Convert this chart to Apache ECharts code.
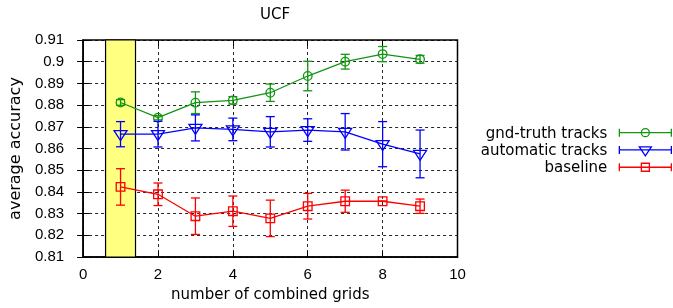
<!DOCTYPE html>
<html>
<head>
<meta charset="utf-8">
<script src="https://cdn.jsdelivr.net/npm/echarts@6/dist/echarts.min.js"></script>
<style>
  html,body{margin:0;padding:0;background:#fff;}
  #chart{width:673px;height:308px;}
</style>
</head>
<body>
<div id="chart"></div>
<script>
/* ---------- data ---------- */
const grids    = [1, 2, 3, 4, 5, 6, 7, 8, 9];
const gtMean   = [0.8812, 0.8742, 0.8811, 0.8822, 0.8857, 0.8934, 0.9000, 0.9035, 0.9011];
const gtErr    = [0.0013, 0.0010, 0.0050, 0.0017, 0.0040, 0.0068, 0.0034, 0.0035, 0.0018];
const autoMean = [0.8666, 0.8666, 0.8695, 0.8688, 0.8677, 0.8685, 0.8677, 0.8620, 0.8575];
const autoErr  = [0.0058, 0.0059, 0.0060, 0.0052, 0.0070, 0.0052, 0.0084, 0.0104, 0.0110];
const baseMean = [0.8423, 0.8389, 0.8288, 0.8311, 0.8278, 0.8334, 0.8357, 0.8357, 0.8334];
const baseErr  = [0.0084, 0.0052, 0.0084, 0.0070, 0.0084, 0.0059, 0.0051, 0.0000, 0.0033];
const highlight = [0.6, 1.4];
const seriesNames = ['gnd-truth tracks', 'automatic tracks', 'baseline'];

/* ---------- styles ---------- */
const colors  = ['#129612', '#0000ff', '#ff0000'];
const markers = ['circle', 'tri', 'square'];
const LW = 1.3;

/* legend icons: error bar with marker, 52 x 14 box */
const iconPaths = {
  circle: 'path://M26,0M26,14M0,6L52,6M0,2L0,10M52,2L52,10M22,6A4,4 0 1,0 30,6A4,4 0 1,0 22,6',
  tri:    'path://M26,0M26,14M0,6L52,6M0,2L0,10M52,2L52,10M20,3L32,3L26,12Z',
  square: 'path://M26,0M26,14M0,6L52,6M0,2L0,10M52,2L52,10M22,2L30,2L30,10L22,10Z'
};

function markerShape(kind, p, color){
  const st = {stroke: color, fill: 'none', lineWidth: LW};
  if(kind==='circle') return {type:'circle', shape:{cx:p[0], cy:p[1], r:4.3}, style:st};
  if(kind==='square') return {type:'rect', shape:{x:p[0]-4.3, y:p[1]-4.3, width:8.6, height:8.6}, style:st};
  return {type:'polygon', shape:{points:[[p[0]-6.5,p[1]-3.5],[p[0]+6.5,p[1]-3.5],[p[0],p[1]+6.5]]}, style:st};
}

function errorSeries(idx, means, errs){
  const color = colors[idx], kind = markers[idx];
  return {
    name: seriesNames[idx],
    type: 'custom',
    z: 4,
    itemStyle: {color: color},
    data: grids.map((g,i)=>[g, means[i], errs[i]]),
    encode: {x: 0, y: 1},
    renderItem: function(params, api){
      const x = api.value(0), m = api.value(1), e = api.value(2);
      const c  = api.coord([x, m]);
      const hi = api.coord([x, m + e]);
      const lo = api.coord([x, m - e]);
      const ls = {stroke: color, lineWidth: LW};
      const cap = 4.5;
      const children = [
        {type:'line', shape:{x1:c[0], y1:hi[1], x2:c[0], y2:lo[1]}, style:ls},
        {type:'line', shape:{x1:c[0]-cap, y1:hi[1], x2:c[0]+cap, y2:hi[1]}, style:ls},
        {type:'line', shape:{x1:c[0]-cap, y1:lo[1], x2:c[0]+cap, y2:lo[1]}, style:ls},
        markerShape(kind, c, color)
      ];
      return {type:'group', children: children};
    }
  };
}

function lineSeries(idx, means){
  return {
    name: seriesNames[idx],
    type: 'line',
    z: 3,
    symbol: 'none',
    silent: true,
    lineStyle: {color: colors[idx], width: LW},
    itemStyle: {color: colors[idx]},
    data: grids.map((g,i)=>[g, means[i]])
  };
}

const tickFont = {fontFamily: 'Liberation Sans', fontSize: 15, color: '#000'};
const nameFont = {fontFamily: 'DejaVu Sans', fontSize: 15, color: '#000'};
const gridLine = {show: true, lineStyle: {color: '#000', width: 1, type: [3, 3], opacity: 0.85}};

/* ---------- chart ---------- */
const chart = echarts.init(document.getElementById('chart'), null, {renderer: 'canvas'});
chart.setOption({
  animation: false,
  backgroundColor: '#fff',
  title: {
    text: 'UCF',
    left: 255,
    top: 3,
    textStyle: {fontFamily: 'DejaVu Sans', fontSize: 15, fontWeight: 'normal', color: '#000'}
  },
  grid: {
    left: 83, right: 215.5, top: 40, bottom: 50,
    show: true, borderColor: '#000', borderWidth: 1.5, backgroundColor: 'transparent'
  },
  legend: {
    orient: 'vertical',
    right: 1,
    top: 126,
    padding: 0,
    align: 'right',
    itemWidth: 52,
    itemHeight: 14,
    itemGap: 2,
    selectedMode: false,
    textStyle: {fontFamily: 'DejaVu Sans', fontSize: 15, color: '#000', padding: [0, 7, 0, 0]},
    data: seriesNames.map((n,i)=>({
      name: n,
      icon: iconPaths[markers[i]],
      itemStyle: {color: 'rgba(0,0,0,0)', borderColor: colors[i], borderWidth: LW}
    }))
  },
  xAxis: [{
    type: 'value', min: 0, max: 10, interval: 2,
    name: 'number of combined grids',
    nameLocation: 'middle', nameGap: 31, nameTextStyle: nameFont,
    axisLine: {show: true, lineStyle: {color: '#000', width: 1.5}},
    axisTick: {show: true, inside: true, length: 6, lineStyle: {color: '#000'}},
    axisLabel: Object.assign({margin: 10}, tickFont),
    splitLine: gridLine
  }, {
    type: 'value', min: 0, max: 10, interval: 2, position: 'top',
    axisLine: {show: false},
    axisTick: {show: true, inside: true, length: 6, lineStyle: {color: '#000'}},
    axisLabel: {show: false},
    splitLine: {show: false}
  }],
  yAxis: [{
    type: 'value', min: 0.81, max: 0.91, interval: 0.01,
    name: 'average accuracy',
    nameLocation: 'middle', nameGap: 53, nameTextStyle: Object.assign({}, nameFont, {fontSize: 16}),
    axisLine: {show: true, lineStyle: {color: '#000', width: 1.5}},
    axisTick: {show: true, inside: true, length: 6, lineStyle: {color: '#000'}},
    axisLabel: Object.assign({margin: 19, formatter: v => String(+v.toFixed(2))}, tickFont),
    splitLine: gridLine
  }, {
    type: 'value', min: 0.81, max: 0.91, interval: 0.01, position: 'right',
    axisLine: {show: false},
    axisTick: {show: true, inside: true, length: 6, lineStyle: {color: '#000'}},
    axisLabel: {show: false},
    splitLine: {show: false}
  }],
  series: [
    {
      type: 'line', data: [], silent: true,
      markArea: {
        silent: true,
        itemStyle: {color: '#ffff80', borderColor: '#000', borderWidth: 1.2},
        data: [[{xAxis: highlight[0]}, {xAxis: highlight[1]}]]
      }
    },
    lineSeries(0, gtMean),
    lineSeries(1, autoMean),
    lineSeries(2, baseMean),
    errorSeries(0, gtMean, gtErr),
    errorSeries(1, autoMean, autoErr),
    errorSeries(2, baseMean, baseErr)
  ]
});
</script>
</body>
</html>
